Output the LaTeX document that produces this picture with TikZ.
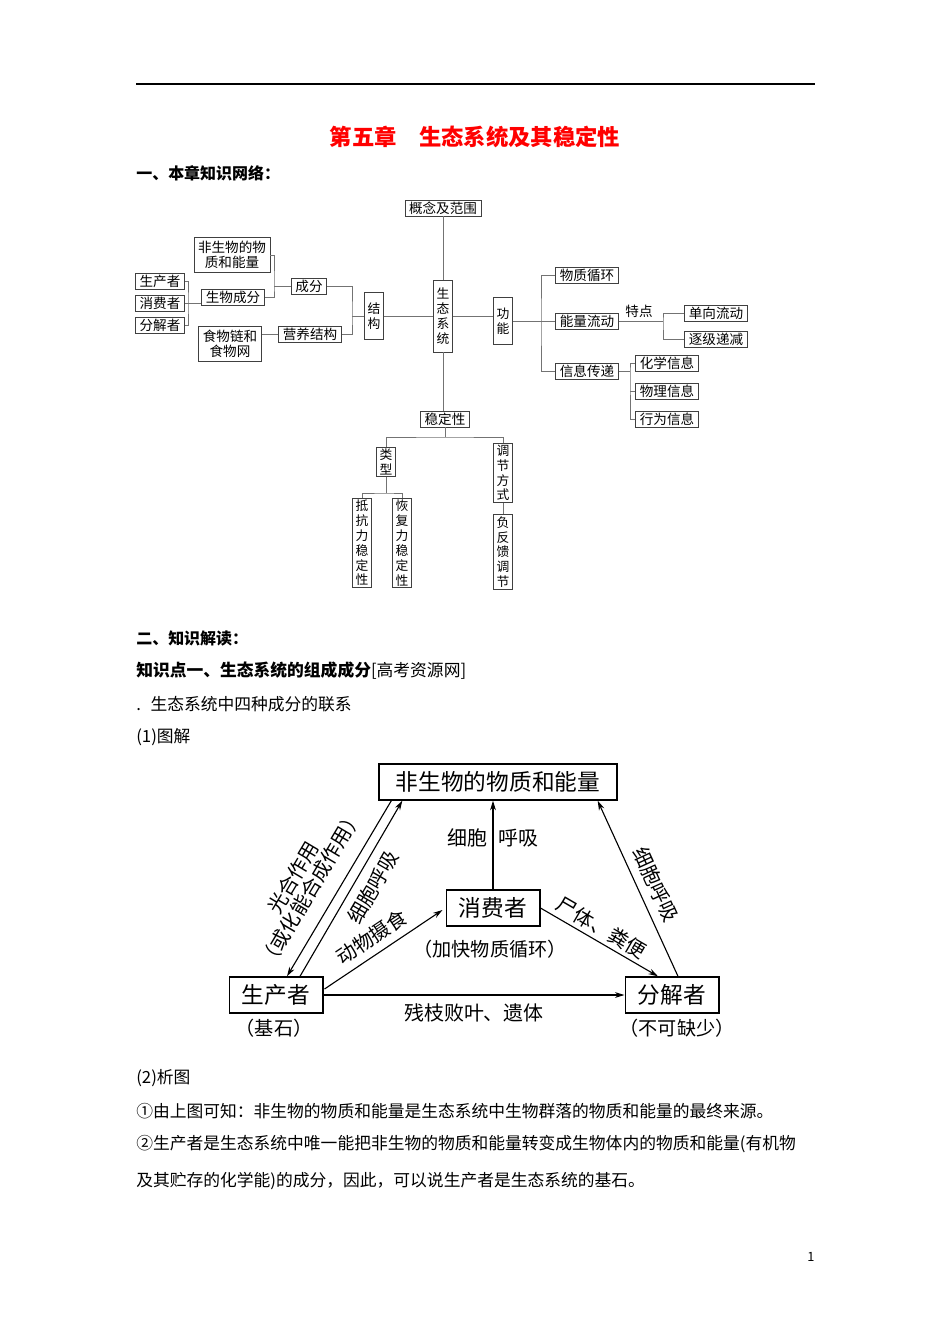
\documentclass[tikz,border=0pt]{standalone}
\usepackage{fontspec}
\setmainfont{Noto Sans CJK SC}
\usepackage{tikz}
\usetikzlibrary{arrows.meta,calc}

\begin{document}
\begin{tikzpicture}[
    x=0.6263pt, y=-0.6263pt,
    hbox/.style={draw=black!75, line width=0.5pt, inner xsep=2.5pt, inner ysep=1pt,
                 minimum height=10pt, align=center, font=\fontsize{8.5}{9.4}\selectfont},
    vbox/.style={draw=black!75, line width=0.5pt, inner xsep=1.8pt, inner ysep=1pt,
                 align=center, font=\fontsize{8}{9.3}\selectfont},
    link/.style={draw=black!55, line width=0.5pt},
    tbox/.style={draw, line width=0.9pt, inner xsep=8pt, minimum height=22.5pt,
                 font=\fontsize{14.2}{16}\selectfont},
    lbl/.style={inner sep=0pt, font=\fontsize{12.5}{13}\selectfont},
    bodytext/.style={inner sep=0pt, anchor=west, font=\fontsize{10.5}{12}\selectfont},
    every edge/.style={draw, line width=0.7pt, -{Stealth[length=6pt,width=3.6pt]}}
  ]
  \path[fill=white, use as bounding box] (0,0) rectangle (950,1344);

  % page head
  \draw[line width=0.8pt] (136,84) -- (815,84);
  \node[font=\fontsize{14}{16}\selectfont\bfseries, text=red] (TITLE) at (475,137)
    {第五章\quad 生态系统及其稳定性};
  \node[bodytext, font=\fontsize{10}{12}\selectfont\bfseries] (H1) at (136,173) {一、本章知识网络：};

  % knowledge tree
  \node[hbox] (CONCEPT) at (443,208) {概念及范围};
  \node[vbox, minimum height=45pt] (ECO) at (443,316) {生\\态\\系\\统};
  \node[vbox, minimum height=29pt] (STRUCT) at (374,316) {结\\构};
  \node[vbox, minimum height=29pt] (FUNC) at (503,321) {功\\能};
  \node[hbox] (STAB) at (445,419) {稳定性};
  \node[hbox] (PART) at (309,286) {成分};
  \node[hbox] (TROPHIC) at (310,334) {营养结构};
  \node[hbox, minimum height=21.5pt] (ABIO) at (232,255) {非生物的物\\质和能量};
  \node[hbox] (BIO) at (233,297) {生物成分};
  \node[hbox] (PROD) at (160,281) {生产者};
  \node[hbox] (CONS) at (160,303) {消费者};
  \node[hbox] (DECO) at (160,325) {分解者};
  \node[hbox, minimum height=21.5pt] (WEB) at (230,344) {食物链和\\食物网};
  \node[hbox] (CYCLE) at (587,275) {物质循环};
  \node[hbox] (FLOW) at (587,321) {能量流动};
  \node[hbox] (INFO) at (587,371) {信息传递};
  \node[inner sep=0pt, font=\fontsize{8.5}{10}\selectfont] (FEAT) at (639,311) {特点};
  \node[hbox] (ONEWAY) at (716,313) {单向流动};
  \node[hbox] (DECR) at (716,339) {逐级递减};
  \node[hbox] (CHEM) at (667,363) {化学信息};
  \node[hbox] (PHYS) at (667,391) {物理信息};
  \node[hbox] (BEHAV) at (667,419) {行为信息};
  \node[vbox] (TYPE) at (386,462) {类\\型};
  \node[vbox] (REG) at (503,473) {调\\节\\方\\式};
  \node[vbox] (NEG) at (503,552) {负\\反\\馈\\调\\节};
  \node[vbox] (RESIST) at (362,543) {抵\\抗\\力\\稳\\定\\性};
  \node[vbox] (RESIL) at (402,543) {恢\\复\\力\\稳\\定\\性};

  \coordinate (PJ) at (274,286);
  \coordinate (BJ) at (188,303);
  \coordinate (SJ) at (352,316);
  \coordinate (FJ) at (541,321);
  \coordinate (EJ) at (663,321);
  \coordinate (IJ) at (630,371);
  \coordinate (KJ) at (445,437);
  \coordinate (TJ) at (386,493);

  \draw[link] (CONCEPT) -- (ECO);
  \draw[link] (ECO.south) -- (ECO.south |- STAB.north);
  \draw[link] (STRUCT) -- (ECO);
  \draw[link] (ECO.east) -- (ECO.east -| FUNC.west);
  \draw[link] (PROD.east) -| (BJ) |- (DECO.east);
  \draw[link] (CONS.east) -- (CONS.east -| BIO.west);
  \draw[link] (ABIO.east) -| (PJ) |- (BIO.east);
  \draw[link] (PJ) -- (PART.west);
  \draw[link] (PART.east) -| (SJ) |- (TROPHIC.east);
  \draw[link] (SJ) -- (STRUCT.west);
  \draw[link] (TROPHIC.west) -- (TROPHIC.west -| WEB.east);
  \draw[link] (FUNC.east) -- (FLOW.west);
  \draw[link] (CYCLE.west) -| (FJ) |- (INFO.west);
  \draw[link] (FLOW.east) -- (EJ);
  \draw[link] (ONEWAY.west) -| (EJ) |- (DECR.west);
  \draw[link] (INFO.east) -- (IJ);
  \draw[link] (CHEM.west) -| (IJ) |- (BEHAV.west);
  \draw[link] (PHYS.west) -- (PHYS.west -| IJ);
  \draw[link] (STAB.south) -- (KJ);
  \draw[link] (TYPE.north) |- (KJ) -| (REG.north);
  \draw[link] (TYPE.south) -- (TJ);
  \draw[link] (RESIST.north) |- (TJ) -| (RESIL.north);
  \draw[link] (REG.south) -- (NEG.north);

  % reading part
  \node[bodytext, font=\fontsize{10}{12}\selectfont\bfseries] (H2) at (136,638) {二、知识解读：};
  \node[bodytext, font=\fontsize{10.5}{12}\selectfont\bfseries] (H3) at (136,671)
    {知识点一、生态系统的组成成分{\mdseries[高考资源网]}};
  \node[bodytext] (T1) at (136,704) {.\hspace{6pt}生态系统中四种成分的联系};
  \node[bodytext] (T2) at (136,737) {(1)图解};

  % four components
  \node[tbox, minimum width=149pt] (ABIOT) at (498,782) {非生物的物质和能量};
  \node[tbox] (CONST) at (493,908) {消费者};
  \node[tbox] (PRODT) at (276,995) {生产者};
  \node[tbox] (DECOT) at (672,995) {分解者};
  \node[lbl, font=\fontsize{12}{13}\selectfont] (BASE) at (274,1028) {（基石）};
  \node[lbl, font=\fontsize{12}{13}\selectfont] (NEED) at (677,1028) {（不可缺少）};
  \node[lbl, font=\fontsize{12}{13}\selectfont] (FAST) at (490,949) {（加快物质循环）};

  \draw ($(ABIOT.south west)+(13,0)$) edge node[lbl, sloped, above=9pt, pos=0.57, align=center]
    {光合作用\\（或化能合成作用）} ($(PRODT.north)+(11,0)$);
  \draw ($(PRODT.north)+(24,0)$) edge node[lbl, sloped, below=5.5pt, pos=0.56] {细胞呼吸}
    ($(ABIOT.south west)+(24,0)$);
  \draw (CONST.north) edge node[lbl, left=3pt, pos=0.58] {细胞} node[lbl, right=3pt, pos=0.58] {呼吸}
    (CONST.north |- ABIOT.south);
  \draw (PRODT.east) edge node[lbl, below=5pt] {残枝败叶、遗体} (DECOT.west);
  \draw ($(PRODT.east)+(1,-6)$) edge node[lbl, sloped, above=4.5pt, pos=0.48] {动物摄食}
    ($(CONST.west)+(-3,2)$);
  \draw (CONST.east) edge node[lbl, sloped, above=2.5pt, pos=0.46] {尸体、粪便}
    ($(DECOT.north)+(-14,0)$);
  \draw ($(DECOT.north)+(6,0)$) edge node[lbl, sloped, above=5pt, pos=0.48] {细胞呼吸}
    ($(ABIOT.south east)+(-20,0)$);

  % analysis
  \node[bodytext] (T3) at (136,1078) {(2)析图};
  \node[bodytext] (T4) at (136,1111)
    {①由上图可知：非生物的物质和能量是生态系统中生物群落的物质和能量的最终来源。};
  \node[bodytext] (T5) at (136,1144)
    {②生产者是生态系统中唯一能把非生物的物质和能量转变成生物体内的物质和能量(有机物};
  \node[bodytext] (T6) at (136,1181)
    {及其贮存的化学能)的成分，因此，可以说生产者是生态系统的基石。};
  \node[font=\fontsize{8}{9}\selectfont] (PAGE) at (811,1257) {1};
\end{tikzpicture}
\end{document}
